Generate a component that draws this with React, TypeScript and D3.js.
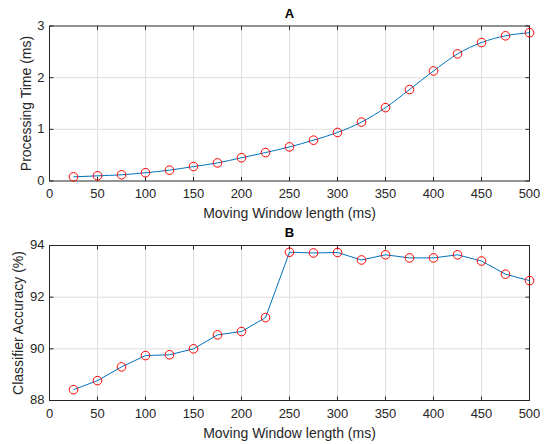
import React, { useEffect, useRef } from 'react';
import * as d3 from 'd3';

const windowLengths = [25, 50, 75, 100, 125, 150, 175, 200, 225, 250, 275, 300, 325, 350, 375, 400, 425, 450, 475, 500];
const processingTime = [0.08, 0.1, 0.12, 0.16, 0.21, 0.28, 0.35, 0.45, 0.55, 0.66, 0.79, 0.94, 1.14, 1.42, 1.77, 2.13, 2.46, 2.68, 2.81, 2.87];
const classifierAccuracy = [88.42, 88.77, 89.3, 89.74, 89.77, 90.0, 90.54, 90.67, 91.21, 93.74, 93.71, 93.73, 93.44, 93.64, 93.52, 93.52, 93.64, 93.4, 92.89, 92.64];
const xTicks = [0, 50, 100, 150, 200, 250, 300, 350, 400, 450, 500];
const timeTicks = [0, 1, 2, 3];
const accuracyTicks = [88, 90, 92, 94];

const W = 544;
const H = 444;
const FONT = '"Liberation Sans", Arial, sans-serif';

function drawPanel(svg, opts) {
  const { top, bottom, left, right, values, yDomain, yTicks, title, yLabel, yLabelX, curve } = opts;
  const x = d3.scaleLinear().domain([0, 500]).range([left, right]);
  const y = d3.scaleLinear().domain(yDomain).range([bottom, top]);
  const g = svg.append('g');

  // grid
  g.selectAll('.vgrid').data(xTicks.slice(1, -1)).enter().append('line')
    .attr('x1', d => x(d)).attr('x2', d => x(d))
    .attr('y1', top).attr('y2', bottom)
    .attr('stroke', '#dedede').attr('stroke-width', 1);
  g.selectAll('.hgrid').data(yTicks.slice(1, -1)).enter().append('line')
    .attr('x1', left).attr('x2', right)
    .attr('y1', d => y(d)).attr('y2', d => y(d))
    .attr('stroke', '#dedede').attr('stroke-width', 1);

  // ticks pointing inward, on all sides
  const tl = 4;
  xTicks.forEach(t => {
    g.append('line').attr('x1', x(t)).attr('x2', x(t)).attr('y1', bottom).attr('y2', bottom - tl).attr('stroke', '#262626');
    g.append('line').attr('x1', x(t)).attr('x2', x(t)).attr('y1', top).attr('y2', top + tl).attr('stroke', '#262626');
    g.append('text').attr('x', x(t)).attr('y', bottom + 14)
      .attr('text-anchor', 'middle').attr('dominant-baseline', 'middle')
      .style('font-family', FONT).style('font-size', '13px').attr('fill', '#262626')
      .text(t);
  });
  yTicks.forEach(t => {
    g.append('line').attr('x1', left).attr('x2', left + tl).attr('y1', y(t)).attr('y2', y(t)).attr('stroke', '#262626');
    g.append('line').attr('x1', right).attr('x2', right - tl).attr('y1', y(t)).attr('y2', y(t)).attr('stroke', '#262626');
    g.append('text').attr('x', left - 5).attr('y', y(t) + 0.5)
      .attr('text-anchor', 'end').attr('dominant-baseline', 'middle')
      .style('font-family', FONT).style('font-size', '13px').attr('fill', '#262626')
      .text(t);
  });

  g.append('rect').attr('x', left).attr('y', top)
    .attr('width', right - left).attr('height', bottom - top)
    .attr('fill', 'none').attr('stroke', '#262626').attr('stroke-width', 1);

  const pts = windowLengths.map((w, i) => [w, values[i]]);
  const line = d3.line().x(d => x(d[0])).y(d => y(d[1])).curve(curve);
  g.append('path').datum(pts).attr('d', line)
    .attr('fill', 'none').attr('stroke', '#0072BD').attr('stroke-width', 1);

  g.selectAll('.mk').data(pts).enter().append('circle')
    .attr('cx', d => x(d[0])).attr('cy', d => y(d[1])).attr('r', 4.3)
    .attr('fill', 'none').attr('stroke', '#ff0000').attr('stroke-width', 1);

  g.append('text').attr('x', (left + right) / 2).attr('y', top - 11.5)
    .attr('text-anchor', 'middle').attr('dominant-baseline', 'middle')
    .style('font-family', FONT).style('font-size', '13px').style('font-weight', 'bold')
    .attr('fill', '#000').text(title);

  g.append('text').attr('x', (left + right) / 2).attr('y', bottom + 33.5)
    .attr('text-anchor', 'middle').attr('dominant-baseline', 'middle')
    .style('font-family', FONT).style('font-size', '14px').attr('fill', '#262626')
    .text('Moving Window length (ms)');

  g.append('text')
    .attr('transform', `translate(${yLabelX},${(top + bottom) / 2}) rotate(-90)`)
    .attr('text-anchor', 'middle').attr('dominant-baseline', 'middle')
    .style('font-family', FONT).style('font-size', '14px').attr('fill', '#262626')
    .text(yLabel);
}

export default function App() {
  const ref = useRef(null);

  useEffect(() => {
    const svg = d3.select(ref.current);
    svg.selectAll('*').remove();
    svg.append('rect').attr('width', W).attr('height', H).attr('fill', '#fff');

    drawPanel(svg, {
      top: 26, bottom: 181, left: 49.5, right: 529.5,
      values: processingTime, yDomain: [0, 3], yTicks: timeTicks,
      title: 'A', yLabel: 'Processing Time (ms)', yLabelX: 27.5,
      curve: d3.curveMonotoneX,
    });
    drawPanel(svg, {
      top: 245.5, bottom: 400.5, left: 49.5, right: 529.5,
      values: classifierAccuracy, yDomain: [88, 94], yTicks: accuracyTicks,
      title: 'B', yLabel: 'Classifier Accuracy (%)', yLabelX: 19,
      curve: d3.curveLinear,
    });
  }, []);

  return (
    <div style={{ position: 'fixed', left: 0, top: 0 }}>
      <svg ref={ref} width={W} height={H} style={{ display: 'block' }} />
    </div>
  );
}
